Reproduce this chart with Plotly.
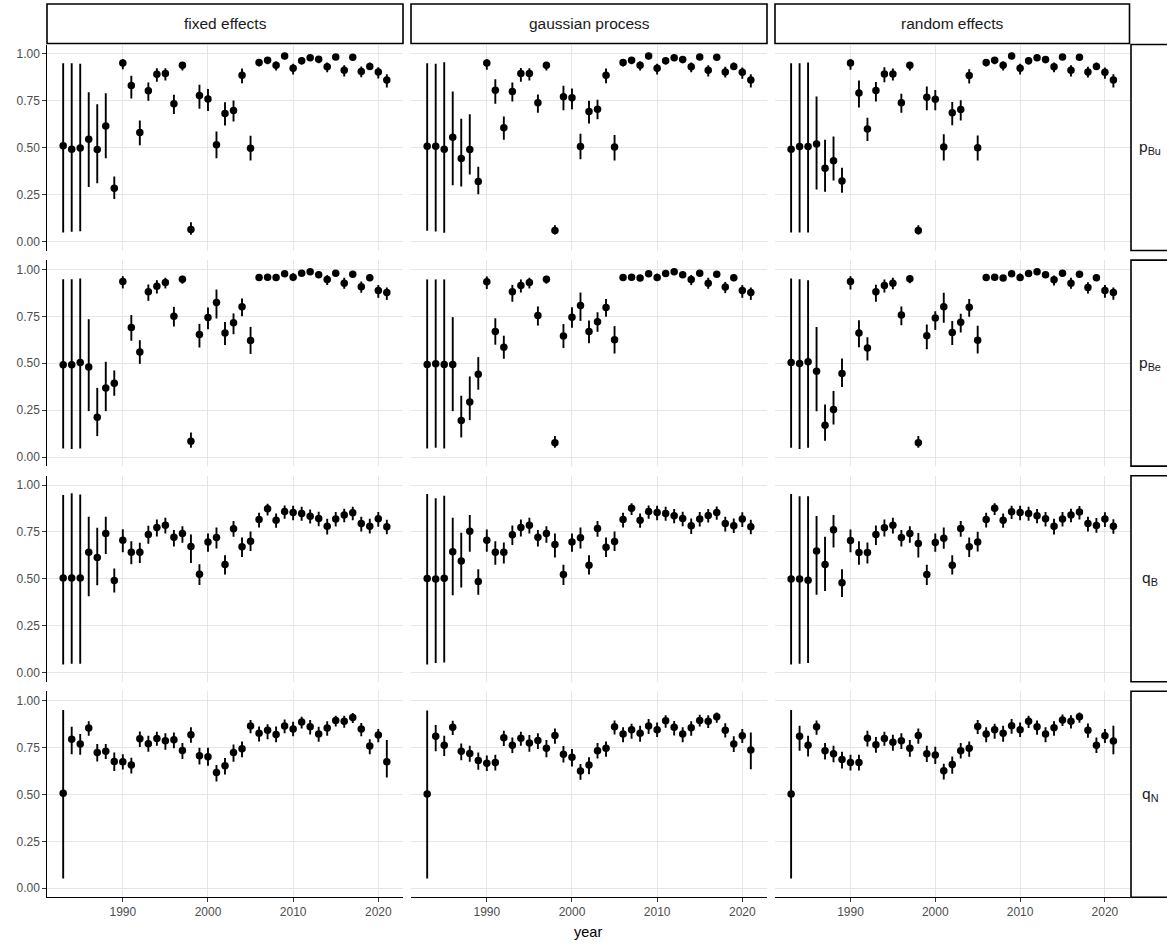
import plotly.graph_objects as go

# ---------------------------------------------------------------- data
years = list(range(1983, 2022))
methods = ["fixed effects", "gaussian process", "random effects"]
params = ["p<sub>Bu</sub>", "p<sub>Be</sub>", "q<sub>B</sub>", "q<sub>N</sub>"]
y_ticks = [0.0, 0.25, 0.5, 0.75, 1.0]
y_tick_text = ["0.00", "0.25", "0.50", "0.75", "1.00"]
x_ticks = [1990, 2000, 2010, 2020]

# p_Bu
fe_pBu_est = [0.510, 0.492, 0.499, 0.545, 0.490, 0.615, 0.284, 0.952, 0.831, 0.581, 0.803, 0.892, 0.895, 0.734, 0.940, 0.064, 0.778, 0.760, 0.515, 0.682, 0.698, 0.886, 0.497, 0.954, 0.966, 0.940, 0.989, 0.924, 0.964, 0.980, 0.972, 0.931, 0.984, 0.913, 0.982, 0.906, 0.933, 0.904, 0.861]
fe_pBu_lo = [0.048, 0.052, 0.055, 0.290, 0.311, 0.444, 0.226, 0.918, 0.762, 0.513, 0.750, 0.851, 0.858, 0.680, 0.911, 0.036, 0.707, 0.696, 0.444, 0.618, 0.639, 0.844, 0.432, 0.933, 0.945, 0.911, 0.972, 0.890, 0.943, 0.964, 0.950, 0.902, 0.968, 0.879, 0.968, 0.876, 0.917, 0.869, 0.821]
fe_pBu_hi = [0.950, 0.950, 0.947, 0.796, 0.732, 0.790, 0.346, 0.972, 0.883, 0.645, 0.847, 0.924, 0.924, 0.782, 0.957, 0.103, 0.835, 0.813, 0.586, 0.742, 0.751, 0.922, 0.563, 0.972, 0.982, 0.959, 0.995, 0.947, 0.982, 0.995, 0.989, 0.954, 0.996, 0.940, 0.996, 0.933, 0.954, 0.929, 0.892]

gp_pBu_est = [0.508, 0.508, 0.492, 0.556, 0.442, 0.490, 0.320, 0.952, 0.806, 0.606, 0.800, 0.895, 0.895, 0.739, 0.940, 0.059, 0.771, 0.766, 0.506, 0.693, 0.705, 0.886, 0.503, 0.954, 0.966, 0.940, 0.989, 0.924, 0.964, 0.980, 0.970, 0.931, 0.984, 0.913, 0.982, 0.904, 0.933, 0.902, 0.861]
gp_pBu_lo = [0.057, 0.053, 0.046, 0.300, 0.293, 0.357, 0.252, 0.915, 0.734, 0.542, 0.746, 0.851, 0.858, 0.686, 0.911, 0.037, 0.700, 0.705, 0.439, 0.629, 0.652, 0.844, 0.432, 0.933, 0.945, 0.911, 0.972, 0.890, 0.943, 0.964, 0.950, 0.902, 0.968, 0.879, 0.968, 0.874, 0.917, 0.867, 0.821]
gp_pBu_hi = [0.950, 0.947, 0.956, 0.800, 0.654, 0.678, 0.398, 0.972, 0.865, 0.666, 0.847, 0.925, 0.924, 0.783, 0.957, 0.087, 0.830, 0.815, 0.574, 0.750, 0.755, 0.922, 0.567, 0.972, 0.982, 0.959, 0.995, 0.947, 0.982, 0.995, 0.989, 0.954, 0.996, 0.940, 0.996, 0.931, 0.954, 0.927, 0.892]

re_pBu_est = [0.492, 0.506, 0.506, 0.519, 0.390, 0.430, 0.323, 0.952, 0.792, 0.599, 0.805, 0.893, 0.893, 0.739, 0.940, 0.059, 0.769, 0.758, 0.503, 0.686, 0.703, 0.885, 0.500, 0.954, 0.966, 0.940, 0.989, 0.924, 0.964, 0.980, 0.970, 0.931, 0.984, 0.913, 0.982, 0.904, 0.933, 0.902, 0.861]
re_pBu_lo = [0.048, 0.048, 0.048, 0.277, 0.265, 0.325, 0.260, 0.915, 0.714, 0.535, 0.746, 0.849, 0.858, 0.686, 0.911, 0.037, 0.700, 0.700, 0.432, 0.620, 0.645, 0.842, 0.432, 0.933, 0.945, 0.911, 0.972, 0.890, 0.943, 0.964, 0.950, 0.902, 0.968, 0.879, 0.968, 0.874, 0.917, 0.867, 0.821]
re_pBu_hi = [0.950, 0.950, 0.954, 0.773, 0.542, 0.560, 0.393, 0.972, 0.858, 0.660, 0.850, 0.929, 0.922, 0.787, 0.957, 0.087, 0.826, 0.808, 0.572, 0.744, 0.753, 0.918, 0.565, 0.972, 0.982, 0.959, 0.995, 0.947, 0.982, 0.995, 0.989, 0.954, 0.996, 0.940, 0.996, 0.931, 0.954, 0.927, 0.892]

# p_Be
fe_pBe_est = [0.492, 0.492, 0.504, 0.480, 0.213, 0.368, 0.393, 0.936, 0.691, 0.560, 0.881, 0.911, 0.931, 0.751, 0.948, 0.085, 0.654, 0.744, 0.824, 0.661, 0.716, 0.801, 0.622, 0.957, 0.959, 0.957, 0.977, 0.959, 0.980, 0.988, 0.972, 0.947, 0.980, 0.927, 0.975, 0.908, 0.956, 0.888, 0.877]
fe_pBe_lo = [0.046, 0.043, 0.046, 0.245, 0.112, 0.245, 0.327, 0.899, 0.620, 0.497, 0.833, 0.872, 0.899, 0.696, 0.924, 0.050, 0.584, 0.682, 0.739, 0.597, 0.655, 0.751, 0.550, 0.940, 0.942, 0.940, 0.962, 0.938, 0.965, 0.975, 0.955, 0.917, 0.965, 0.897, 0.958, 0.876, 0.938, 0.849, 0.838]
fe_pBe_hi = [0.948, 0.948, 0.952, 0.735, 0.369, 0.508, 0.462, 0.964, 0.757, 0.623, 0.920, 0.943, 0.956, 0.801, 0.966, 0.131, 0.710, 0.797, 0.893, 0.720, 0.766, 0.845, 0.694, 0.973, 0.975, 0.973, 0.990, 0.980, 0.992, 0.997, 0.988, 0.970, 0.992, 0.956, 0.990, 0.936, 0.975, 0.917, 0.904]

gp_pBe_est = [0.494, 0.497, 0.494, 0.494, 0.195, 0.293, 0.442, 0.934, 0.670, 0.586, 0.881, 0.915, 0.931, 0.755, 0.948, 0.076, 0.645, 0.746, 0.808, 0.670, 0.721, 0.797, 0.625, 0.957, 0.959, 0.955, 0.977, 0.957, 0.978, 0.988, 0.972, 0.947, 0.980, 0.927, 0.975, 0.906, 0.956, 0.888, 0.877]
gp_pBe_lo = [0.046, 0.050, 0.046, 0.245, 0.105, 0.197, 0.359, 0.896, 0.599, 0.524, 0.828, 0.877, 0.899, 0.701, 0.924, 0.050, 0.581, 0.689, 0.726, 0.607, 0.668, 0.748, 0.552, 0.940, 0.942, 0.938, 0.962, 0.938, 0.963, 0.975, 0.955, 0.917, 0.965, 0.897, 0.958, 0.874, 0.938, 0.849, 0.838]
gp_pBe_hi = [0.947, 0.947, 0.947, 0.746, 0.327, 0.430, 0.533, 0.963, 0.740, 0.647, 0.918, 0.947, 0.956, 0.803, 0.966, 0.112, 0.709, 0.799, 0.877, 0.728, 0.772, 0.842, 0.698, 0.973, 0.975, 0.971, 0.990, 0.978, 0.992, 0.997, 0.988, 0.970, 0.992, 0.956, 0.990, 0.934, 0.975, 0.917, 0.904]

re_pBe_est = [0.504, 0.499, 0.508, 0.458, 0.170, 0.254, 0.446, 0.936, 0.661, 0.581, 0.881, 0.915, 0.927, 0.758, 0.950, 0.076, 0.647, 0.741, 0.801, 0.664, 0.719, 0.799, 0.623, 0.957, 0.959, 0.955, 0.977, 0.957, 0.978, 0.988, 0.972, 0.945, 0.980, 0.927, 0.975, 0.904, 0.956, 0.888, 0.877]
re_pBe_lo = [0.050, 0.043, 0.050, 0.245, 0.087, 0.174, 0.373, 0.893, 0.586, 0.515, 0.828, 0.877, 0.895, 0.703, 0.926, 0.050, 0.575, 0.678, 0.716, 0.597, 0.664, 0.748, 0.552, 0.940, 0.942, 0.938, 0.962, 0.938, 0.963, 0.975, 0.955, 0.915, 0.965, 0.897, 0.958, 0.872, 0.938, 0.849, 0.838]
re_pBe_hi = [0.952, 0.948, 0.943, 0.694, 0.280, 0.352, 0.526, 0.964, 0.730, 0.639, 0.918, 0.947, 0.956, 0.803, 0.968, 0.112, 0.707, 0.778, 0.876, 0.725, 0.764, 0.842, 0.700, 0.973, 0.975, 0.971, 0.990, 0.978, 0.992, 0.997, 0.988, 0.968, 0.992, 0.956, 0.990, 0.932, 0.975, 0.917, 0.904]

# q_B
fe_qB_est = [0.505, 0.505, 0.505, 0.642, 0.614, 0.742, 0.491, 0.706, 0.642, 0.642, 0.737, 0.774, 0.786, 0.722, 0.742, 0.673, 0.525, 0.696, 0.721, 0.577, 0.767, 0.671, 0.701, 0.817, 0.874, 0.813, 0.859, 0.854, 0.849, 0.834, 0.822, 0.781, 0.819, 0.840, 0.852, 0.795, 0.781, 0.820, 0.778]
fe_qB_lo = [0.044, 0.048, 0.048, 0.407, 0.466, 0.632, 0.427, 0.642, 0.578, 0.585, 0.687, 0.726, 0.742, 0.673, 0.692, 0.585, 0.468, 0.644, 0.662, 0.523, 0.724, 0.617, 0.648, 0.774, 0.838, 0.772, 0.820, 0.813, 0.810, 0.795, 0.781, 0.737, 0.779, 0.802, 0.813, 0.753, 0.742, 0.778, 0.738]
fe_qB_hi = [0.947, 0.956, 0.950, 0.831, 0.772, 0.831, 0.555, 0.765, 0.701, 0.692, 0.783, 0.817, 0.826, 0.760, 0.781, 0.737, 0.578, 0.742, 0.774, 0.626, 0.808, 0.721, 0.753, 0.852, 0.901, 0.849, 0.891, 0.890, 0.884, 0.870, 0.858, 0.820, 0.856, 0.874, 0.884, 0.831, 0.820, 0.856, 0.815]

gp_qB_est = [0.502, 0.500, 0.504, 0.644, 0.596, 0.754, 0.486, 0.706, 0.642, 0.642, 0.735, 0.774, 0.786, 0.722, 0.742, 0.683, 0.523, 0.696, 0.719, 0.573, 0.769, 0.669, 0.699, 0.817, 0.876, 0.813, 0.859, 0.854, 0.849, 0.836, 0.822, 0.783, 0.819, 0.838, 0.854, 0.795, 0.783, 0.819, 0.778]
gp_qB_lo = [0.044, 0.052, 0.055, 0.413, 0.454, 0.644, 0.416, 0.644, 0.576, 0.582, 0.681, 0.726, 0.742, 0.673, 0.692, 0.614, 0.468, 0.644, 0.662, 0.523, 0.724, 0.617, 0.648, 0.774, 0.840, 0.772, 0.820, 0.813, 0.810, 0.797, 0.781, 0.739, 0.779, 0.800, 0.815, 0.753, 0.744, 0.777, 0.738]
gp_qB_hi = [0.952, 0.930, 0.943, 0.826, 0.746, 0.840, 0.552, 0.763, 0.701, 0.694, 0.785, 0.817, 0.826, 0.760, 0.781, 0.742, 0.576, 0.742, 0.774, 0.626, 0.808, 0.721, 0.753, 0.852, 0.903, 0.849, 0.891, 0.890, 0.884, 0.872, 0.858, 0.822, 0.856, 0.872, 0.886, 0.831, 0.822, 0.855, 0.815]

re_qB_est = [0.500, 0.500, 0.493, 0.648, 0.577, 0.762, 0.480, 0.704, 0.641, 0.641, 0.737, 0.772, 0.786, 0.721, 0.742, 0.689, 0.523, 0.694, 0.717, 0.573, 0.769, 0.671, 0.697, 0.817, 0.876, 0.813, 0.858, 0.854, 0.849, 0.836, 0.820, 0.781, 0.819, 0.840, 0.856, 0.795, 0.785, 0.819, 0.781]
re_qB_lo = [0.044, 0.048, 0.052, 0.415, 0.436, 0.667, 0.404, 0.642, 0.576, 0.582, 0.681, 0.726, 0.742, 0.673, 0.692, 0.614, 0.468, 0.644, 0.660, 0.523, 0.724, 0.617, 0.646, 0.774, 0.840, 0.772, 0.819, 0.813, 0.810, 0.797, 0.779, 0.737, 0.779, 0.802, 0.817, 0.753, 0.746, 0.777, 0.741]
re_qB_hi = [0.952, 0.941, 0.941, 0.835, 0.724, 0.840, 0.552, 0.763, 0.701, 0.694, 0.785, 0.817, 0.826, 0.760, 0.781, 0.745, 0.576, 0.742, 0.774, 0.626, 0.808, 0.721, 0.751, 0.852, 0.903, 0.849, 0.890, 0.890, 0.884, 0.872, 0.856, 0.820, 0.856, 0.874, 0.888, 0.831, 0.824, 0.855, 0.818]

# q_N
fe_qN_est = [0.507, 0.795, 0.769, 0.854, 0.724, 0.731, 0.676, 0.674, 0.657, 0.797, 0.770, 0.799, 0.786, 0.792, 0.735, 0.819, 0.706, 0.701, 0.617, 0.653, 0.724, 0.744, 0.865, 0.826, 0.843, 0.820, 0.865, 0.849, 0.886, 0.861, 0.822, 0.854, 0.895, 0.891, 0.911, 0.849, 0.758, 0.817, 0.674]
fe_qN_lo = [0.052, 0.715, 0.712, 0.813, 0.676, 0.689, 0.625, 0.633, 0.612, 0.753, 0.728, 0.760, 0.738, 0.746, 0.689, 0.776, 0.660, 0.653, 0.569, 0.607, 0.674, 0.699, 0.827, 0.783, 0.795, 0.778, 0.826, 0.810, 0.852, 0.820, 0.781, 0.813, 0.863, 0.856, 0.881, 0.810, 0.714, 0.778, 0.591]
fe_qN_hi = [0.950, 0.861, 0.822, 0.890, 0.769, 0.769, 0.724, 0.715, 0.696, 0.836, 0.813, 0.834, 0.826, 0.831, 0.774, 0.858, 0.749, 0.749, 0.657, 0.694, 0.767, 0.783, 0.897, 0.863, 0.875, 0.863, 0.900, 0.888, 0.915, 0.897, 0.861, 0.890, 0.920, 0.920, 0.934, 0.881, 0.795, 0.849, 0.790]

gp_qN_est = [0.502, 0.811, 0.762, 0.859, 0.730, 0.719, 0.681, 0.667, 0.671, 0.802, 0.763, 0.800, 0.774, 0.788, 0.746, 0.815, 0.715, 0.698, 0.625, 0.657, 0.733, 0.746, 0.861, 0.822, 0.845, 0.826, 0.865, 0.845, 0.893, 0.858, 0.822, 0.856, 0.895, 0.891, 0.915, 0.843, 0.769, 0.813, 0.737]
gp_qN_lo = [0.052, 0.730, 0.705, 0.817, 0.683, 0.674, 0.632, 0.625, 0.628, 0.758, 0.721, 0.760, 0.728, 0.742, 0.699, 0.770, 0.671, 0.649, 0.578, 0.608, 0.692, 0.701, 0.820, 0.779, 0.797, 0.781, 0.822, 0.806, 0.856, 0.815, 0.779, 0.813, 0.863, 0.854, 0.883, 0.804, 0.726, 0.774, 0.635]
gp_qN_hi = [0.948, 0.870, 0.813, 0.893, 0.772, 0.760, 0.724, 0.708, 0.712, 0.840, 0.804, 0.834, 0.817, 0.826, 0.790, 0.852, 0.758, 0.742, 0.662, 0.699, 0.774, 0.783, 0.895, 0.859, 0.877, 0.866, 0.902, 0.884, 0.922, 0.892, 0.859, 0.890, 0.925, 0.922, 0.937, 0.880, 0.810, 0.849, 0.831]

re_qN_est = [0.502, 0.811, 0.763, 0.861, 0.733, 0.717, 0.687, 0.671, 0.671, 0.800, 0.765, 0.799, 0.778, 0.786, 0.746, 0.815, 0.717, 0.710, 0.626, 0.660, 0.733, 0.746, 0.863, 0.822, 0.845, 0.826, 0.866, 0.845, 0.891, 0.861, 0.822, 0.856, 0.897, 0.890, 0.915, 0.842, 0.763, 0.813, 0.785]
re_qN_lo = [0.052, 0.733, 0.703, 0.819, 0.687, 0.672, 0.638, 0.628, 0.628, 0.756, 0.722, 0.760, 0.733, 0.742, 0.701, 0.770, 0.673, 0.662, 0.580, 0.611, 0.692, 0.701, 0.822, 0.779, 0.797, 0.781, 0.824, 0.806, 0.854, 0.818, 0.779, 0.813, 0.865, 0.852, 0.883, 0.802, 0.721, 0.774, 0.715]
re_qN_hi = [0.950, 0.867, 0.813, 0.894, 0.774, 0.760, 0.728, 0.712, 0.712, 0.840, 0.806, 0.834, 0.819, 0.826, 0.790, 0.852, 0.760, 0.755, 0.664, 0.703, 0.774, 0.783, 0.897, 0.859, 0.877, 0.866, 0.902, 0.884, 0.920, 0.895, 0.859, 0.890, 0.927, 0.922, 0.937, 0.879, 0.804, 0.849, 0.867]

# grid of facets: rows = parameters, columns = model type
panels = [
    [(fe_pBu_est, fe_pBu_lo, fe_pBu_hi), (gp_pBu_est, gp_pBu_lo, gp_pBu_hi), (re_pBu_est, re_pBu_lo, re_pBu_hi)],
    [(fe_pBe_est, fe_pBe_lo, fe_pBe_hi), (gp_pBe_est, gp_pBe_lo, gp_pBe_hi), (re_pBe_est, re_pBe_lo, re_pBe_hi)],
    [(fe_qB_est, fe_qB_lo, fe_qB_hi), (gp_qB_est, gp_qB_lo, gp_qB_hi), (re_qB_est, re_qB_lo, re_qB_hi)],
    [(fe_qN_est, fe_qN_lo, fe_qN_hi), (gp_qN_est, gp_qN_lo, gp_qN_hi), (re_qN_est, re_qN_lo, re_qN_hi)],
]

# ---------------------------------------------------------------- layout geometry (pixels)
W, H = 1167, 945
col_x = [(47, 403), (411, 767), (775, 1129.5)]
row_top0, row_h, row_step = 44.5, 206, 215.6
row_y = [(row_top0 + i * row_step, row_top0 + i * row_step + row_h) for i in range(4)]
strip_top = (4, 43.5)
strip_right = (1131, 1175)

FONT = "Liberation Sans, Arial, Helvetica, sans-serif"
GRID = "#E6E6E6"
TICK_COL = "#4D4D4D"

fig = go.Figure()
layout = {}

for r in range(4):
    for c in range(3):
        k = r * 3 + c + 1
        sfx = "" if k == 1 else str(k)
        est, lo, hi = panels[r][c]
        up = [h - e for h, e in zip(hi, est)]
        down = [e - l for e, l in zip(est, lo)]
        fig.add_trace(go.Scatter(
            x=years, y=est, mode="markers",
            marker=dict(color="black", size=7.5),
            error_y=dict(type="data", symmetric=False, array=up, arrayminus=down,
                         color="black", thickness=1.9, width=0),
            xaxis="x" + sfx, yaxis="y" + sfx, showlegend=False, hoverinfo="x+y",
        ))
        x0, x1 = col_x[c]
        y0, y1 = row_y[r]
        bottom = r == 3
        left = c == 0
        layout["xaxis" + sfx] = dict(
            domain=[x0 / W, x1 / W], anchor="y" + sfx,
            range=[1981.1, 2022.9], tickvals=x_ticks,
            showticklabels=bottom, ticks="outside" if bottom else "",
            ticklen=3.5, tickwidth=1.1, tickcolor="#333333",
            showline=bottom, linecolor="black", linewidth=1.3,
            showgrid=True, gridcolor=GRID, gridwidth=1.2, zeroline=False,
            tickfont=dict(family=FONT, size=12, color=TICK_COL),
        )
        layout["yaxis" + sfx] = dict(
            domain=[1 - y1 / H, 1 - y0 / H], anchor="x" + sfx,
            range=[-0.048, 1.05], tickvals=y_ticks, ticktext=y_tick_text,
            showticklabels=left, ticks="outside" if left else "",
            ticklen=3.5, tickwidth=1.1, tickcolor="#333333",
            showline=left, linecolor="black", linewidth=1.3,
            showgrid=True, gridcolor=GRID, gridwidth=1.2, zeroline=False,
            tickfont=dict(family=FONT, size=12, color=TICK_COL),
        )

shapes = []
annotations = []
# column strips
for c, name in enumerate(methods):
    x0, x1 = col_x[c]
    shapes.append(dict(type="rect", xref="paper", yref="paper",
                       x0=x0 / W, x1=x1 / W, y0=1 - strip_top[1] / H, y1=1 - strip_top[0] / H,
                       line=dict(color="black", width=1.6), fillcolor="white", layer="above"))
    annotations.append(dict(text=name, xref="paper", yref="paper",
                            x=(x0 + x1) / 2 / W, y=1 - (strip_top[0] + strip_top[1]) / 2 / H,
                            xanchor="center", yanchor="middle", showarrow=False,
                            font=dict(family=FONT, size=15.5, color="#1A1A1A")))
# row strips
for r, name in enumerate(params):
    y0, y1 = row_y[r]
    shapes.append(dict(type="rect", xref="paper", yref="paper",
                       x0=strip_right[0] / W, x1=strip_right[1] / W, y0=1 - y1 / H, y1=1 - y0 / H,
                       line=dict(color="black", width=1.6), fillcolor="white", layer="above"))
    annotations.append(dict(text=name, xref="paper", yref="paper",
                            x=(strip_right[0] + 19) / W, y=1 - (y0 + y1) / 2 / H,
                            xanchor="center", yanchor="middle", showarrow=False,
                            font=dict(family=FONT, size=15.5, color="#1A1A1A")))
# x-axis title
annotations.append(dict(text="year", xref="paper", yref="paper",
                        x=(col_x[0][0] + col_x[2][1]) / 2 / W, y=1 - 932 / H,
                        xanchor="center", yanchor="middle", showarrow=False,
                        font=dict(family=FONT, size=14.5, color="black")))

fig.update_layout(
    width=W, height=H,
    margin=dict(l=0, r=0, t=0, b=0),
    paper_bgcolor="white", plot_bgcolor="white",
    showlegend=False, shapes=shapes, annotations=annotations,
    font=dict(family=FONT),
    **layout,
)

fig.write_html("out.html")
